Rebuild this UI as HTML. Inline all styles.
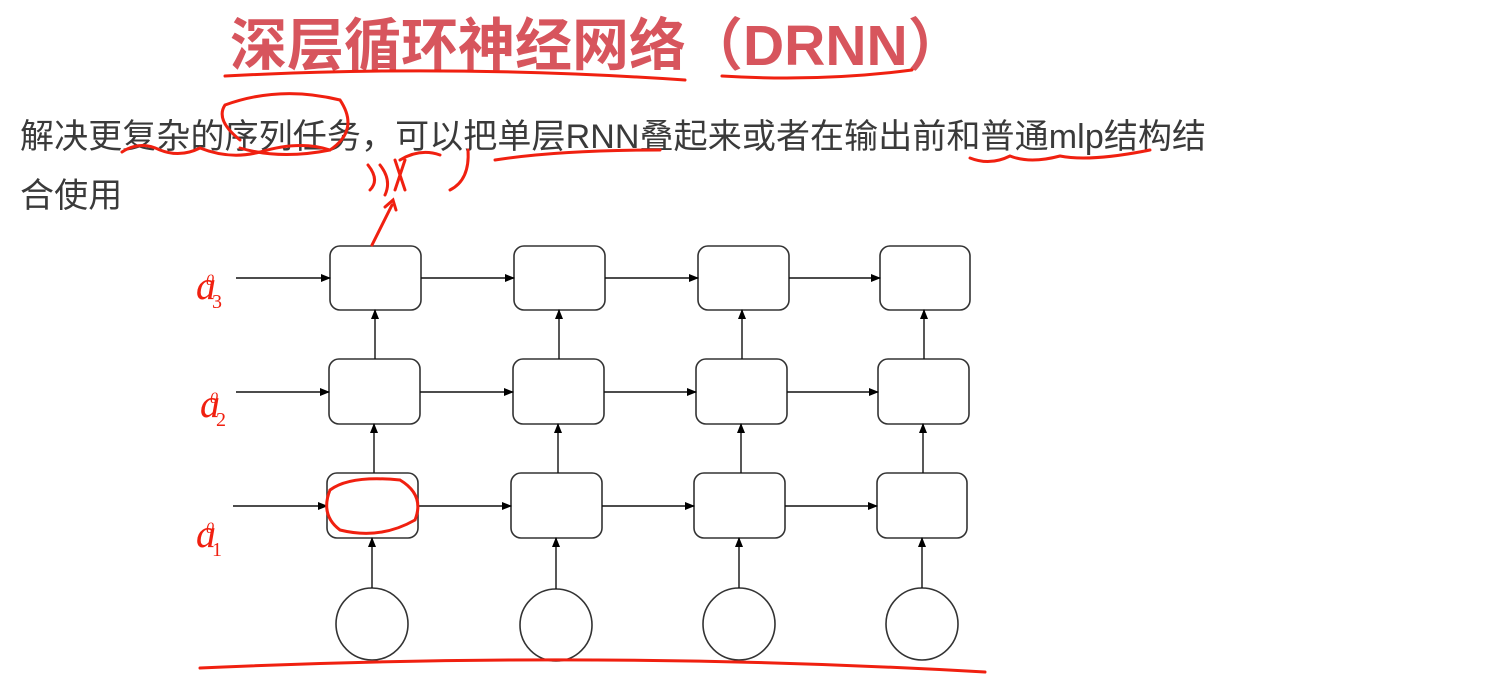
<!DOCTYPE html>
<html><head><meta charset="utf-8"><style>
html,body{margin:0;padding:0;background:#fff;width:1496px;height:688px;overflow:hidden}
.t{position:absolute;left:230px;top:0px;font:bold 57px "Liberation Sans","Noto Sans CJK SC",sans-serif;color:#d7555d;white-space:nowrap;letter-spacing:0px}
.b{position:absolute;left:20px;font:34px "Liberation Sans","Noto Sans CJK SC",sans-serif;color:#3a3a3a;white-space:nowrap;letter-spacing:0.1px}
.h{position:absolute;font:italic 40px "Liberation Serif",serif;color:#f02010}
.h sub{font-size:20px;font-style:normal}
.h sup{font-size:16px;position:relative;left:-10px}
svg{position:absolute;left:0;top:0}
</style></head><body>
<div class="t">深层循环神经网络（DRNN）</div>
<div class="b" style="top:109px">解决更复杂的序列任务，可以把单层RNN叠起来或者在输出前和普通mlp结构结</div>
<div class="b" style="top:168px">合使用</div>
<div class="h" style="left:196px;top:262px">a<sup>0</sup><sub style="position:relative;left:-12px">3</sub></div>
<div class="h" style="left:200px;top:380px">a<sup>0</sup><sub style="position:relative;left:-12px">2</sub></div>
<div class="h" style="left:196px;top:510px">a<sup>0</sup><sub style="position:relative;left:-12px">1</sub></div>
<svg width="1496" height="688" viewBox="0 0 1496 688">
<defs><marker id="a" markerWidth="10" markerHeight="10" refX="9" refY="5" orient="auto" markerUnits="userSpaceOnUse"><path d="M0,1 L10,5 L0,9z" fill="#000"/></marker></defs>
<g fill="#fff" stroke="#333" stroke-width="1.6">
<rect x="330" y="246" width="91" height="64" rx="10"/><rect x="514" y="246" width="91" height="64" rx="10"/><rect x="698" y="246" width="91" height="64" rx="10"/><rect x="880" y="246" width="90" height="64" rx="10"/>
<rect x="329" y="359" width="91" height="65" rx="10"/><rect x="513" y="359" width="91" height="65" rx="10"/><rect x="696" y="359" width="91" height="65" rx="10"/><rect x="878" y="359" width="91" height="65" rx="10"/>
<rect x="327" y="473" width="91" height="65" rx="10"/><rect x="511" y="473" width="91" height="65" rx="10"/><rect x="694" y="473" width="91" height="65" rx="10"/><rect x="877" y="473" width="90" height="65" rx="10"/>
<circle cx="372" cy="624" r="36"/><circle cx="556" cy="625" r="36"/><circle cx="739" cy="624" r="36"/><circle cx="922" cy="624" r="36"/>
</g>
<g stroke="#111" stroke-width="1.4" marker-end="url(#a)">
<line x1="236" y1="278" x2="330" y2="278"/><line x1="421" y1="278" x2="514" y2="278"/><line x1="605" y1="278" x2="698" y2="278"/><line x1="789" y1="278" x2="880" y2="278"/>
<line x1="236" y1="392" x2="329" y2="392"/><line x1="420" y1="392" x2="513" y2="392"/><line x1="604" y1="392" x2="696" y2="392"/><line x1="787" y1="392" x2="878" y2="392"/>
<line x1="233" y1="506" x2="327" y2="506"/><line x1="418" y1="506" x2="511" y2="506"/><line x1="602" y1="506" x2="694" y2="506"/><line x1="785" y1="506" x2="877" y2="506"/>
<line x1="375" y1="359" x2="375" y2="310"/><line x1="559" y1="359" x2="559" y2="310"/><line x1="742" y1="359" x2="742" y2="310"/><line x1="924" y1="359" x2="924" y2="310"/>
<line x1="374" y1="473" x2="374" y2="424"/><line x1="558" y1="473" x2="558" y2="424"/><line x1="741" y1="473" x2="741" y2="424"/><line x1="923" y1="473" x2="923" y2="424"/>
<line x1="372" y1="588" x2="372" y2="538"/><line x1="556" y1="589" x2="556" y2="538"/><line x1="739" y1="588" x2="739" y2="538"/><line x1="922" y1="588" x2="922" y2="538"/>
</g>
<g fill="none" stroke="#f02010" stroke-width="3" stroke-linecap="round">
<path d="M225,76 Q450,64 685,80"/><path d="M722,76 Q820,82 912,70"/>
<path d="M122,152 Q140,140 160,150 Q180,158 200,148 Q230,160 260,152 Q300,140 330,150"/>
<path d="M240,140 Q215,120 225,105 Q280,85 340,100 Q360,130 330,150 Q280,160 240,148"/>
<path d="M495,160 Q560,150 660,150"/>
<path d="M970,158 Q990,166 1010,156 Q1030,164 1060,156 Q1090,162 1150,150"/>
<path d="M200,668 Q600,650 985,672"/>
<path d="M330,490 Q350,475 400,480 Q425,495 415,520 Q380,540 340,530 Q320,515 330,490"/>
<path d="M372,245 L392,205"/><path d="M385,207 L393,200 L396,210"/>
<path d="M400,160 Q420,148 440,155"/><path d="M450,190 Q470,180 468,150"/>
<path d="M368,165 Q380,180 370,190 M380,165 Q392,180 385,195 M395,160 L405,190 M405,160 L395,190"/>
</g>
</svg>
</body></html>
